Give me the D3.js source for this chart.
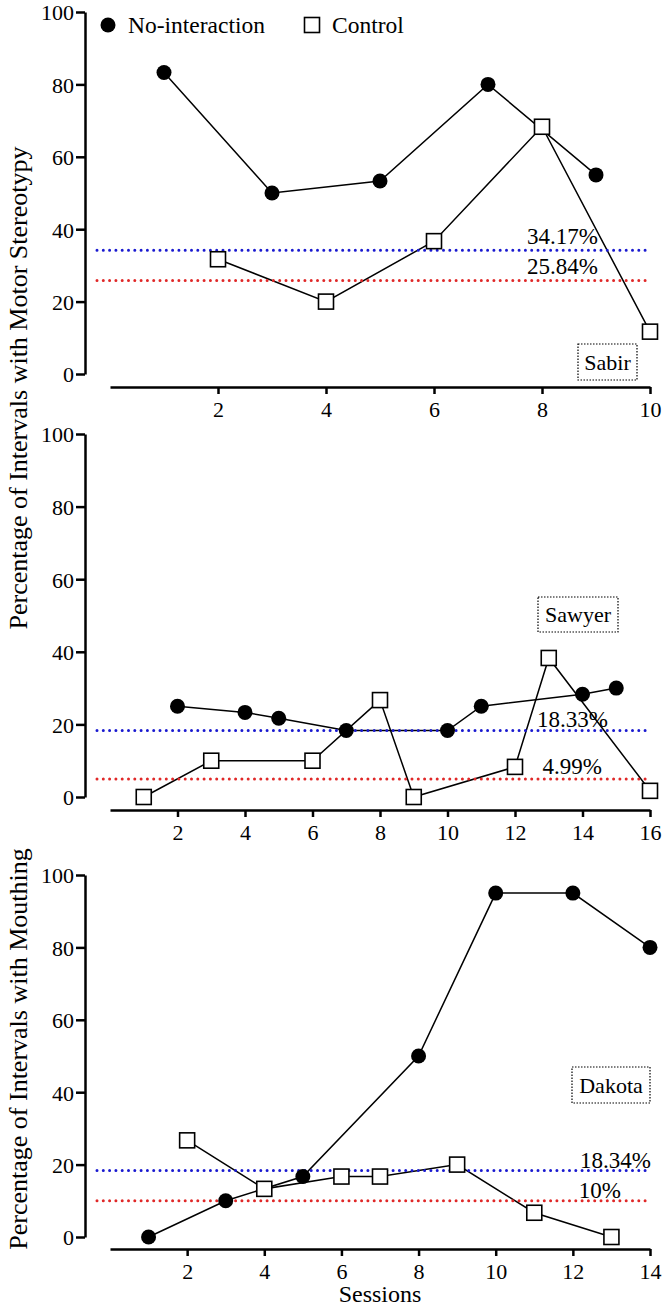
<!DOCTYPE html>
<meta charset="utf-8">
<body style="margin:0">
<script src="https://d3js.org/d3.v7.min.js"></script>
<script>

// ---- data ----
var sabirNoIntSessions   = [1, 3, 5, 7, 9];
var sabirNoInt           = [83.3, 50, 53.3, 80, 55];
var sabirControlSessions = [2, 4, 6, 8, 10];
var sabirControl         = [31.7, 20, 36.7, 68.3, 11.7];

var sawyerNoIntSessions   = [2, 4, 5, 7, 10, 11, 14, 15];
var sawyerNoInt           = [25, 23.3, 21.7, 18.3, 18.3, 25, 28.3, 30];
var sawyerControlSessions = [1, 3, 6, 8, 9, 12, 13, 16];
var sawyerControl         = [0, 10, 10, 26.7, 0, 8.3, 38.3, 1.7];

var dakotaNoIntSessions   = [1, 3, 5, 8, 10, 12, 14];
var dakotaNoInt           = [0, 10, 16.7, 50, 95, 95, 80];
var dakotaControlSessions = [2, 4, 6, 7, 9, 11, 13];
var dakotaControl         = [26.7, 13.3, 16.7, 16.7, 20, 6.7, 0];

var participants = ["Sabir", "Sawyer", "Dakota"];
var sessionMax   = [10, 16, 14];
var meanNoInt    = [34.17, 18.33, 18.34];   // blue dotted
var meanControl  = [25.84, 4.99, 10];       // red dotted
var meanNoIntLabels   = ["34.17%", "18.33%", "18.34%"];
var meanControlLabels = ["25.84%", "4.99%", "10%"];
var yTicks = [0, 20, 40, 60, 80, 100];
var legendLabels = ["No-interaction", "Control"];

// ---- layout ----
var W = 664, H = 1306;
var xLeft = 110, xRight = 650, yAxisX = 85;
var SERIF = "'Liberation Serif'";

var layout = [
  {y0: 374,  y100: 12,  xAxisY: 387,  textX: 598, noIntDy: -6, ctlDy: -6,
   box: {x: 578, y: 344, w: 59, h: 36}},
  {y0: 797,  y100: 434, xAxisY: 810,  textX: 608, noIntDy: -3, ctlDy: -5,
   box: {x: 538, y: 597, w: 80, h: 35}},
  {y0: 1237, y100: 875, xAxisY: 1249, textX: 651, noIntDy: -3, ctlDy: -3,
   box: {x: 572, y: 1067, w: 78, h: 36}}
];
var controlTextX = [598, 602, 621];

var series = [
  {noIntS: sabirNoIntSessions, noInt: sabirNoInt, ctlS: sabirControlSessions, ctl: sabirControl},
  {noIntS: sawyerNoIntSessions, noInt: sawyerNoInt, ctlS: sawyerControlSessions, ctl: sawyerControl},
  {noIntS: dakotaNoIntSessions, noInt: dakotaNoInt, ctlS: dakotaControlSessions, ctl: dakotaControl}
];

var svg = d3.select("body").append("svg")
    .attr("width", W)
    .attr("height", H)
    .attr("font-family", "Liberation Serif");

var zip = (xs, ys) => xs.map((s, i) => ({s: s, v: ys[i]}));

function serifText(sel, size){
    return sel.style("font-family", SERIF).style("font-size", size + "px");
}

function styleAxis(a){
    a.attr("font-family", null).attr("font-size", null);
    a.select(".domain").attr("stroke", "#000").attr("stroke-width", 2.5);
    a.selectAll(".tick line").attr("stroke", "#000").attr("stroke-width", 2.5);
    serifText(a.selectAll("text"), 22).attr("fill", "#000");
}

participants.forEach(function(name, i){
    var L = layout[i], S = series[i];

    var x = d3.scaleLinear().domain([0, sessionMax[i]]).range([xLeft, xRight]);
    var y = d3.scaleLinear().domain([0, 100]).range([L.y0, L.y100]);

    var g = svg.append("g");

    // y axis
    var ya = g.append("g")
        .attr("transform", "translate(" + yAxisX + ",0)")
        .call(d3.axisLeft(y).tickValues(yTicks).tickSize(9).tickSizeOuter(0).tickPadding(2));
    styleAxis(ya);
    ya.selectAll("text").attr("dy", "0.36em");

    // x axis
    var xa = g.append("g")
        .attr("transform", "translate(0," + L.xAxisY + ")")
        .call(d3.axisBottom(x).tickValues(d3.range(2, sessionMax[i] + 1, 2)).tickSize(7).tickSizeOuter(0).tickPadding(7));
    styleAxis(xa);

    var line = d3.line().x(d => x(d.s)).y(d => y(d.v));
    var noIntData = zip(S.noIntS, S.noInt);
    var ctlData   = zip(S.ctlS, S.ctl);

    [noIntData, ctlData].forEach(function(dat){
        g.append("path").datum(dat)
            .attr("fill", "none").attr("stroke", "#000").attr("stroke-width", 1.5)
            .attr("d", line);
    });

    // mean lines
    [[meanNoInt[i], "#1a1ad0"], [meanControl[i], "#e02828"]].forEach(function(m){
        g.append("line")
            .attr("x1", 97).attr("x2", 648)
            .attr("y1", y(m[0])).attr("y2", y(m[0]))
            .attr("stroke", m[1])
            .attr("stroke-width", 3)
            .attr("stroke-linecap", "round")
            .attr("stroke-dasharray", "0 6.3");
    });

    serifText(g.append("text"), 23)
        .attr("x", L.textX).attr("y", y(meanNoInt[i]) + L.noIntDy)
        .attr("text-anchor", "end")
        .text(meanNoIntLabels[i]);
    serifText(g.append("text"), 23)
        .attr("x", controlTextX[i]).attr("y", y(meanControl[i]) + L.ctlDy)
        .attr("text-anchor", "end")
        .text(meanControlLabels[i]);

    // markers
    g.selectAll(".dot").data(noIntData).enter().append("circle")
        .attr("class", "dot")
        .attr("cx", d => x(d.s)).attr("cy", d => y(d.v))
        .attr("r", 7.5).attr("fill", "#000");
    g.selectAll(".sq").data(ctlData).enter().append("rect")
        .attr("class", "sq")
        .attr("x", d => x(d.s) - 7.5).attr("y", d => y(d.v) - 7.5)
        .attr("width", 15).attr("height", 15)
        .attr("fill", "#fff").attr("stroke", "#000").attr("stroke-width", 1.6);

    // participant name box
    g.append("rect")
        .attr("x", L.box.x).attr("y", L.box.y)
        .attr("width", L.box.w).attr("height", L.box.h)
        .attr("fill", "none").attr("stroke", "#000")
        .attr("stroke-width", 1.2).attr("stroke-dasharray", "1.5 1.5");
    serifText(g.append("text"), 22)
        .attr("x", L.box.x + L.box.w / 2).attr("y", L.box.y + L.box.h / 2)
        .attr("dy", "0.35em").attr("text-anchor", "middle")
        .text(name);
});

// legend
var legend = svg.append("g");
legend.append("circle").attr("cx", 108).attr("cy", 25).attr("r", 7.5).attr("fill", "#000");
serifText(legend.append("text"), 23.5).attr("x", 128).attr("y", 33).text(legendLabels[0]);
legend.append("rect").attr("x", 304.5).attr("y", 17.5).attr("width", 15).attr("height", 15)
    .attr("fill", "#fff").attr("stroke", "#000").attr("stroke-width", 1.6);
serifText(legend.append("text"), 23.5).attr("x", 332).attr("y", 33).text(legendLabels[1]);

// axis titles
serifText(svg.append("text"), 26)
    .attr("transform", "translate(27,388) rotate(-90)")
    .attr("text-anchor", "middle")
    .text("Percentage of Intervals with Motor Stereotypy");
serifText(svg.append("text"), 26)
    .attr("transform", "translate(27,1049) rotate(-90)")
    .attr("text-anchor", "middle")
    .text("Percentage of Intervals with Mouthing");
serifText(svg.append("text"), 24)
    .attr("x", (xLeft + xRight) / 2).attr("y", 1302)
    .attr("text-anchor", "middle")
    .text("Sessions");

</script>
